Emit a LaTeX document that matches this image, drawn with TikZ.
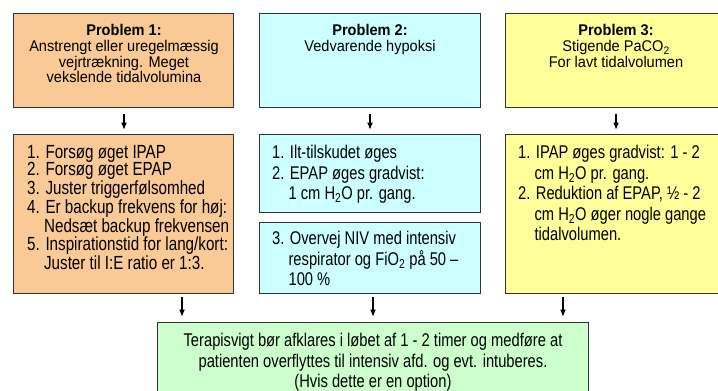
\documentclass[tikz,border=0pt]{standalone}
\usepackage{fontspec}
\setmainfont{Liberation Sans}
\newfontfamily\narrowf{Liberation Sans}[FakeStretch=0.8]
\newfontfamily\topf{Liberation Sans}[FakeStretch=0.94]
\usetikzlibrary{arrows.meta}
\definecolor{corange}{HTML}{F9C996}
\definecolor{ccyan}{HTML}{CCFFFF}
\definecolor{cyellow}{HTML}{FFFF99}
\definecolor{cgreen}{HTML}{CCFFCC}
\newcommand{\ind}{\hphantom{1.\ }}
\begin{document}
\begin{tikzpicture}[x=1pt,y=-1pt,
  box/.style={draw=black!80, line width=0.9pt, rectangle, anchor=north west, inner sep=0pt},
  toptext/.style={anchor=north, inner sep=0pt, align=center, font=\topf\fontsize{15.5}{15.6}\selectfont},
  listtext/.style={anchor=north west, inner sep=0pt, align=left, font=\narrowf\fontsize{18.4}{20.5}\selectfont},
  arr/.style={line width=1.4pt, -{Latex[length=7.5pt,width=6pt]}, shorten <=6pt, shorten >=4pt},
  arrb/.style={line width=1.4pt, -{Latex[length=7.5pt,width=6pt]}, shorten <=3pt, shorten >=5pt}]
\useasboundingbox (0,0) rectangle (718,391);
\clip (0,0) rectangle (718,391);
\fill[white] (0,0) rectangle (718,391);
% top boxes
\node[box, fill=corange, minimum width=220pt, minimum height=94pt] (p1) at (13,13) {};
\node[box, fill=ccyan, minimum width=221pt, minimum height=94pt] (p2) at (259,13) {};
\node[box, fill=cyellow, minimum width=222pt, minimum height=94pt] (p3) at (505,13) {};
% lower boxes
\node[box, fill=corange, minimum width=220pt, minimum height=159pt] (l1) at (13,134) {};
\node[box, fill=ccyan, minimum width=221pt, minimum height=78pt] (l2a) at (259,134) {};
\node[box, fill=ccyan, minimum width=221pt, minimum height=71pt] (l2b) at (259,222) {};
\node[box, fill=cyellow, minimum width=222pt, minimum height=159pt] (l3) at (505,134) {};
\node[box, fill=cgreen, minimum width=431pt, minimum height=90pt] (g) at (157,322) {};
% texts
\node[toptext] (t1) at (124,24.5) {\textbf{Problem 1:}\\Anstrengt eller uregelmæssig\\vejrtrækning. Meget\\vekslende tidalvolumina};
\node[toptext] (t2) at (370,24.5) {\textbf{Problem 2:}\\Vedvarende hypoksi};
\node[toptext] (t3) at (616,24.5) {\textbf{Problem 3:}\\Stigende PaCO\textsubscript{2}\\For lavt tidalvolumen};
\node[listtext, font=\narrowf\fontsize{19}{17.4}\selectfont] (x1) at (27,145.2) {1. Forsøg øget IPAP\\2. Forsøg øget EPAP\\3. Juster triggerfølsomhed\\4. Er backup frekvens for høj:\\\ind Nedsæt backup frekvensen\\5. Inspirationstid for lang/kort:\\\ind Juster til I:E ratio er 1:3.};
\node[listtext] (x2a) at (272,145.3) {1. Ilt-tilskudet øges\\2. EPAP øges gradvist:\\\ind 1 cm H\textsubscript{2}O pr. gang.};
\node[listtext] (x2b) at (272,231.3) {3. Overvej NIV med intensiv\\\ind respirator og FiO\textsubscript{2} på 50 –\\\ind 100 \%};
\node[listtext] (x3) at (518,145.3) {1. IPAP øges gradvist: 1 - 2\\\ind cm H\textsubscript{2}O pr. gang.\\2. Reduktion af EPAP, ½ - 2\\\ind cm H\textsubscript{2}O øger nogle gange\\\ind tidalvolumen.};
\node[listtext, anchor=north, align=center, font=\narrowf\fontsize{18.4}{20.3}\selectfont] (xg) at (373,333.3) {Terapisvigt bør afklares i løbet af 1 - 2 timer og medføre at\\patienten overflyttes til intensiv afd. og evt. intuberes.\\(Hvis dette er en option)};
% arrows
\coordinate (a1) at (124,0);
\coordinate (a2) at (370,0);
\coordinate (a3) at (616,0);
\coordinate (b1) at (182,0);
\coordinate (b2) at (373,0);
\coordinate (b3) at (563,0);
\draw[arr] (p1.south -| a1) -- (l1.north -| a1);
\draw[arr] (p2.south -| a2) -- (l2a.north -| a2);
\draw[arr] (p3.south -| a3) -- (l3.north -| a3);
\draw[arrb] (l1.south -| b1) -- (g.north -| b1);
\draw[arrb] (l2b.south -| b2) -- (g.north -| b2);
\draw[arrb] (l3.south -| b3) -- (g.north -| b3);
\end{tikzpicture}
\end{document}
